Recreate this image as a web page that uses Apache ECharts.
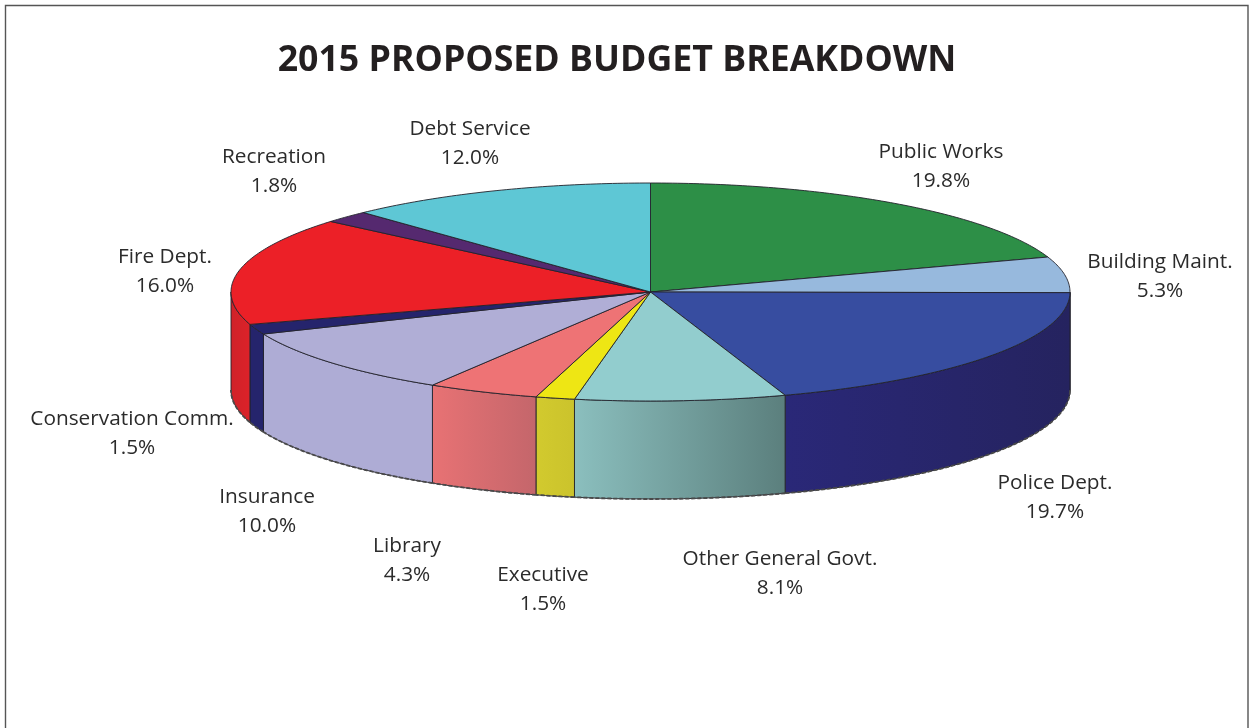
<!DOCTYPE html>
<html>
<head>
<meta charset="utf-8">
<style>
  html, body { margin: 0; padding: 0; background: #fff; }
  #chart { width: 1253px; height: 728px; }
</style>
<script src="https://cdn.jsdelivr.net/npm/echarts@6/dist/echarts.min.js"></script>
</head>
<body>
<div id="chart"></div>
<script>
// Budget shares, clockwise from twelve o'clock.
const departments = [
  'Public Works', 'Building Maint.', 'Police Dept.', 'Other General Govt.', 'Executive',
  'Library', 'Insurance', 'Conservation Comm.', 'Fire Dept.', 'Recreation', 'Debt Service'
];
const shares = [19.8, 5.3, 19.7, 8.1, 1.5, 4.3, 10.0, 1.5, 16.0, 1.8, 12.0];

// Top face colours and left/right shades of the rim.
const topColors = ['#2d8f47', '#97b9dd', '#374da0', '#92cdce', '#eee614', '#ee7375', '#b0aed6', '#25246c', '#ec2027', '#55296f', '#5ec7d5'];
const rimLeft  = ['#2d8f47', '#97b9dd', '#2a2878', '#8bbfbe', '#d2ca2e', '#e87274', '#aeacd5', '#25246c', '#cf2229', '#55296f', '#5ec7d5'];
const rimRight = ['#2d8f47', '#97b9dd', '#25235f', '#5b7f7d', '#cbc32c', '#c4666b', '#aeacd5', '#25246c', '#dc2229', '#55296f', '#5ec7d5'];

// Centre of each two-line label.
const labelX = [941, 1160, 1055, 780, 543, 407, 267, 132, 165, 274, 470];
const labelY = [166.5, 276.5, 497.5, 573.5, 589.5, 560.5, 512, 433.5, 271.5, 171.5, 143.5];

// Disc geometry: ellipse of the top face and rim height.
const CX = 650.5, CY = 292, RX = 419.5, RY = 109, DEPTH = 98;
const LABEL_FONT = '"Open Sans", sans-serif';

const total = shares.reduce((a, b) => a + b, 0);
const startAngle = [];
shares.reduce((sum, v, i) => { startAngle[i] = sum / total * 360; return sum + v; }, 0);

function rimPoint(deg, dy) {
  const r = deg * Math.PI / 180;
  return [CX + RX * Math.sin(r), CY - RY * Math.cos(r) + dy];
}
function arcPoints(from, to, dy) {
  const pts = [];
  const n = Math.max(2, Math.ceil((to - from) / 0.75));
  for (let i = 0; i <= n; i++) pts.push(rimPoint(from + (to - from) * i / n, dy));
  return pts;
}

function renderSlice(params, api) {
  const i = params.dataIndex;
  const from = startAngle[i];
  const to = from + api.value(0) / total * 360;
  const children = [];

  // Only the near half of the rim faces the viewer.
  const wFrom = Math.max(from, 90), wTo = Math.min(to, 270);
  if (wTo > wFrom) {
    const upper = arcPoints(wFrom, wTo, 0);
    const lower = arcPoints(wFrom, wTo, DEPTH);
    children.push({
      type: 'polygon', z2: 1,
      shape: { points: upper.concat(lower.slice().reverse()) },
      style: {
        fill: {
          type: 'linear', x: 0, y: 0, x2: 1, y2: 0,
          colorStops: [{ offset: 0, color: rimLeft[i] }, { offset: 1, color: rimRight[i] }]
        },
        stroke: '#23232b', lineWidth: 0.9
      }
    });
    children.push({
      type: 'polyline', z2: 2,
      shape: { points: lower },
      style: { fill: null, stroke: '#4a4a4a', lineWidth: 1.8, lineDash: [4, 2] }
    });
  }

  // Top face wedge.
  children.push({
    type: 'polygon', z2: 3,
    shape: { points: [[CX, CY]].concat(arcPoints(from, to, 0)) },
    style: { fill: topColors[i], stroke: '#23232b', lineWidth: 0.9 }
  });

  // Name and percentage.
  children.push({
    type: 'text', z2: 5,
    x: labelX[i], y: labelY[i],
    style: {
      text: api.value(1) + '\n' + api.value(0).toFixed(1) + '%',
      fill: '#2b2b2b',
      font: '400 20.8px ' + LABEL_FONT,
      lineHeight: 29,
      align: 'center',
      verticalAlign: 'middle'
    }
  });
  return { type: 'group', children };
}

const chart = echarts.init(document.getElementById('chart'), null, { renderer: 'canvas' });
chart.setOption({
  animation: false,
  backgroundColor: '#fff',
  title: {
    text: '2015 PROPOSED BUDGET BREAKDOWN',
    left: 612, top: 56, textAlign: 'center', textVerticalAlign: 'middle',
    textStyle: { fontFamily: LABEL_FONT, fontWeight: 700, fontSize: 35.7, color: '#231f20' }
  },
  graphic: [{
    type: 'polyline', silent: true,
    shape: { points: [[5.5, 728], [5.5, 5.5], [1248, 5.5], [1248, 728]] },
    style: { fill: null, stroke: '#555', lineWidth: 1.4 }
  }],
  series: [{
    type: 'custom',
    coordinateSystem: 'none',
    renderItem: renderSlice,
    silent: true,
    data: shares.map((v, i) => [v, departments[i]])
  }]
});
</script>
</body>
</html>
